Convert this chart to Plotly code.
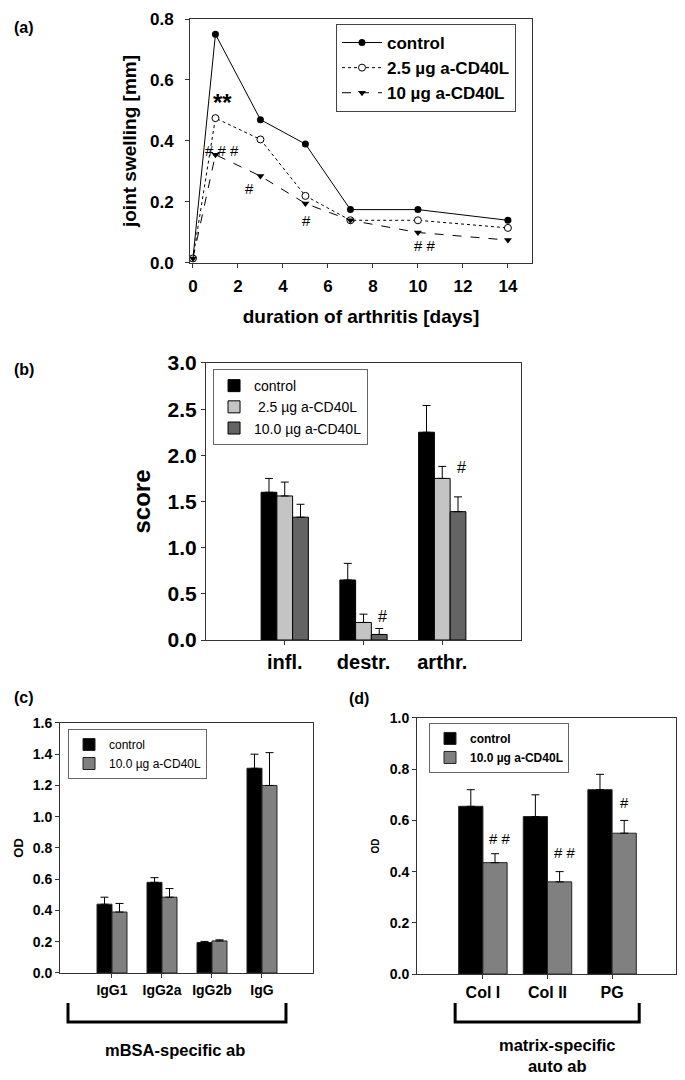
import plotly.graph_objects as go

# ---------------- data ----------------
# (a) joint swelling
days = [0, 1, 3, 5, 7, 10, 14]
swell_control = [0.015, 0.75, 0.47, 0.39, 0.175, 0.175, 0.14]
swell_25 = [0.015, 0.475, 0.405, 0.22, 0.14, 0.14, 0.115]
swell_10 = [0.015, 0.355, 0.285, 0.195, 0.14, 0.10, 0.075]
a_marks_text = ["**", "# # #", "#", "#", "# #"]
a_marks_x = [1.3, 1.3, 2.5, 5.05, 10.3]
a_marks_y = [0.525, 0.37, 0.245, 0.138, 0.056]

# (b) score
score_cats = ["infl.", "destr.", "arthr."]
score_control = [1.60, 0.65, 2.25]
score_control_err = [0.15, 0.18, 0.29]
score_25 = [1.56, 0.19, 1.75]
score_25_err = [0.15, 0.09, 0.13]
score_10 = [1.33, 0.06, 1.39]
score_10_err = [0.14, 0.065, 0.16]
b_marks_text = ["#", "#"]
b_marks_x = [1.24, 2.24]
b_marks_y = [0.25, 1.87]

# (c) mBSA-specific ab
mbsa_cats = ["IgG1", "IgG2a", "IgG2b", "IgG"]
mbsa_control = [0.44, 0.58, 0.195, 1.31]
mbsa_control_err = [0.045, 0.03, 0.007, 0.09]
mbsa_10 = [0.39, 0.485, 0.205, 1.20]
mbsa_10_err = [0.055, 0.055, 0.007, 0.21]

# (d) matrix-specific auto ab
matrix_cats = ["Col I", "Col II", "PG"]
matrix_control = [0.655, 0.615, 0.72]
matrix_control_err = [0.065, 0.085, 0.06]
matrix_10 = [0.435, 0.36, 0.55]
matrix_10_err = [0.035, 0.04, 0.05]
d_marks_text = ["# #", "# #", "#"]
d_marks_x = [0.26, 1.27, 2.2]
d_marks_y = [0.53, 0.475, 0.67]

FONT = "Liberation Sans, Arial, sans-serif"

fig = go.Figure()

# ---------------- (a) ----------------
fig.add_trace(go.Scatter(x=days, y=swell_control, mode="lines+markers", name="control",
                         line=dict(color="black", width=1, dash="solid"),
                         marker=dict(symbol="circle", size=7, color="black"),
                         xaxis="x", yaxis="y", legend="legend"))
fig.add_trace(go.Scatter(x=days, y=swell_25, mode="lines+markers", name="2.5 µg a-CD40L",
                         line=dict(color="black", width=1, dash="dot"),
                         marker=dict(symbol="circle", size=7, color="white",
                                     line=dict(color="black", width=1)),
                         xaxis="x", yaxis="y", legend="legend"))
fig.add_trace(go.Scatter(x=days, y=swell_10, mode="lines+markers", name="10 µg a-CD40L",
                         line=dict(color="black", width=1, dash="dash"),
                         marker=dict(symbol="triangle-down", size=7, color="black"),
                         xaxis="x", yaxis="y", legend="legend"))


def err(arr):
    return dict(type="data", array=arr, arrayminus=[0] * len(arr), symmetric=False,
                color="black", thickness=1, width=4)


# ---------------- (b) ----------------
for vals, e, name, col, off in [
    (score_control, score_control_err, "control", "black", -0.3),
    (score_25, score_25_err, " 2.5 µg a-CD40L", "#c4c4c4", -0.1),
    (score_10, score_10_err, "10.0 µg a-CD40L", "#646464", 0.1),
]:
    fig.add_trace(go.Bar(x=score_cats, y=vals, name=name, width=0.2, offset=off,
                         marker=dict(color=col, line=dict(color="black", width=1)),
                         error_y=err(e), xaxis="x2", yaxis="y2", legend="legend2"))

# ---------------- (c) ----------------
for vals, e, name, col, off in [
    (mbsa_control, mbsa_control_err, "control", "black", -0.3),
    (mbsa_10, mbsa_10_err, "10.0 µg a-CD40L", "#808080", 0.0),
]:
    fig.add_trace(go.Bar(x=mbsa_cats, y=vals, name=name, width=0.3, offset=off,
                         marker=dict(color=col, line=dict(color="#222", width=1)),
                         error_y=err(e), xaxis="x3", yaxis="y3", legend="legend3"))

# ---------------- (d) ----------------
for vals, e, name, col, off in [
    (matrix_control, matrix_control_err, "control", "black", -0.375),
    (matrix_10, matrix_10_err, "10.0 µg a-CD40L", "#808080", 0.0),
]:
    fig.add_trace(go.Bar(x=matrix_cats, y=vals, name=name, width=0.375, offset=off,
                         marker=dict(color=col, line=dict(color="#222", width=1)),
                         error_y=err(e), xaxis="x4", yaxis="y4", legend="legend4"))

# ---------------- axes ----------------
axcommon = dict(showline=True, linecolor="#333", linewidth=1, mirror=True,
                ticks="outside", tickcolor="#333", ticklen=4, showgrid=False,
                zeroline=False, automargin=False)

layout = dict(
    width=685, height=1080,
    margin=dict(l=0, r=0, t=0, b=0, autoexpand=False),
    paper_bgcolor="white", plot_bgcolor="white",
    font=dict(family=FONT, color="black"),
    barmode="overlay",
    xaxis=dict(domain=[0.2774, 0.7766], range=[-0.13, 15.07], tickvals=list(range(0, 15, 2)),
               tickfont=dict(size=17, weight="bold"), ticklabelstandoff=4,
               title=dict(text="duration of arthritis [days]", font=dict(size=19, weight="bold"),
                          standoff=14),
               anchor="y", **axcommon),
    yaxis=dict(domain=[0.7565, 0.9824], range=[0, 0.8], dtick=0.2, tickformat=".1f",
               tickfont=dict(size=17, weight="bold"), ticklabelstandoff=8,
               title=dict(text="joint swelling [mm]", font=dict(size=19, weight="bold"),
                          standoff=8),
               anchor="x", **axcommon),
    xaxis2=dict(domain=[0.3007, 0.7606], range=[-1, 3], type="category",
                tickfont=dict(size=20, weight="bold"), anchor="y2", **axcommon),
    yaxis2=dict(domain=[0.4074, 0.6639], range=[0, 3], dtick=0.5, tickformat=".1f",
                tickfont=dict(size=21, weight="bold"),
                title=dict(text="score", font=dict(size=24, weight="bold"), standoff=10),
                anchor="x2", **axcommon),
    xaxis3=dict(domain=[0.0876, 0.4569], range=[-1.04, 4.02], type="category",
                tickfont=dict(size=14, weight="bold"), anchor="y3", **axcommon),
    yaxis3=dict(domain=[0.0991, 0.3306], range=[0, 1.6], dtick=0.2, tickformat=".1f",
                tickfont=dict(size=14, weight="bold"),
                title=dict(text="OD", font=dict(size=13, weight="bold"), standoff=6),
                anchor="x3", **axcommon),
    xaxis4=dict(domain=[0.6088, 0.9869], range=[-1.02, 2.99], type="category",
                tickfont=dict(size=16, weight="bold"), anchor="y4", **axcommon),
    yaxis4=dict(domain=[0.0981, 0.3352], range=[0, 1.0], dtick=0.2, tickformat=".1f",
                tickfont=dict(size=14, weight="bold"),
                title=dict(text="OD", font=dict(size=10, weight="bold"), standoff=8),
                anchor="x4", **axcommon),
    legend=dict(x=0.4905, y=0.9778, xanchor="left", yanchor="top",
                bordercolor="#444", borderwidth=1, bgcolor="white",
                font=dict(size=17, weight="bold"), itemwidth=40, tracegroupgap=0),
    legend2=dict(x=0.311, y=0.6583, xanchor="left", yanchor="top",
                 bordercolor="#666", borderwidth=1, bgcolor="white",
                 font=dict(size=14), itemwidth=30, tracegroupgap=0),
    legend3=dict(x=0.0993, y=0.325, xanchor="left", yanchor="top",
                 bordercolor="#666", borderwidth=1, bgcolor="white",
                 font=dict(size=12), itemwidth=30, tracegroupgap=0),
    legend4=dict(x=0.6263, y=0.3306, xanchor="left", yanchor="top",
                 bordercolor="#666", borderwidth=1, bgcolor="white",
                 font=dict(size=12, weight="bold"), itemwidth=30, tracegroupgap=0),
)
fig.update_layout(**layout)

ann = []
# panel labels
for txt, x, y in [("(a)", 12, 27), ("(b)", 12, 370), ("(c)", 12, 697), ("(d)", 347, 698)]:
    ann.append(dict(text=txt, x=x / 685, y=1 - y / 1080, xref="paper", yref="paper",
                    xanchor="left", yanchor="middle", showarrow=False,
                    font=dict(size=16, weight="bold")))
# significance marks
for t, x, y in zip(a_marks_text, a_marks_x, a_marks_y):
    big = t == "**"
    ann.append(dict(text=t, x=x, y=y, xref="x", yref="y", showarrow=False,
                    xanchor="center", yanchor="middle",
                    font=dict(size=24 if big else 15, weight="bold" if big else "normal")))
for t, x, y in zip(b_marks_text, b_marks_x, b_marks_y):
    ann.append(dict(text=t, x=x, y=y, xref="x2", yref="y2", showarrow=False,
                    xanchor="center", yanchor="middle", font=dict(size=16)))
for t, x, y in zip(d_marks_text, d_marks_x, d_marks_y):
    ann.append(dict(text=t, x=x, y=y, xref="x4", yref="y4", showarrow=False,
                    xanchor="center", yanchor="middle", font=dict(size=15)))
# group captions
ann.append(dict(text="mBSA-specific ab", x=175 / 685, y=1 - 1050 / 1080, xref="paper",
                yref="paper", xanchor="center", yanchor="middle", showarrow=False,
                font=dict(size=16.5, weight="bold")))
ann.append(dict(text="matrix-specific<br>auto ab", x=557 / 685, y=1 - 1055 / 1080,
                xref="paper", yref="paper", xanchor="center", yanchor="middle",
                showarrow=False, font=dict(size=16.5, weight="bold")))
fig.update_layout(annotations=ann)

# brackets
shapes = []
for xr, x0, x1 in [("x3", -0.88, 3.48), ("x4", -0.43, 2.42)]:
    shapes.append(dict(type="path", xref=xr, yref="paper",
                       path=f"M {x0},{1 - 1003 / 1080} L {x0},{1 - 1022 / 1080} "
                            f"L {x1},{1 - 1022 / 1080} L {x1},{1 - 1003 / 1080}",
                       line=dict(color="black", width=3)))
fig.update_layout(shapes=shapes)

fig.write_html("out.html", config={"displayModeBar": False},
               post_script="document.body.style.margin='0';")
